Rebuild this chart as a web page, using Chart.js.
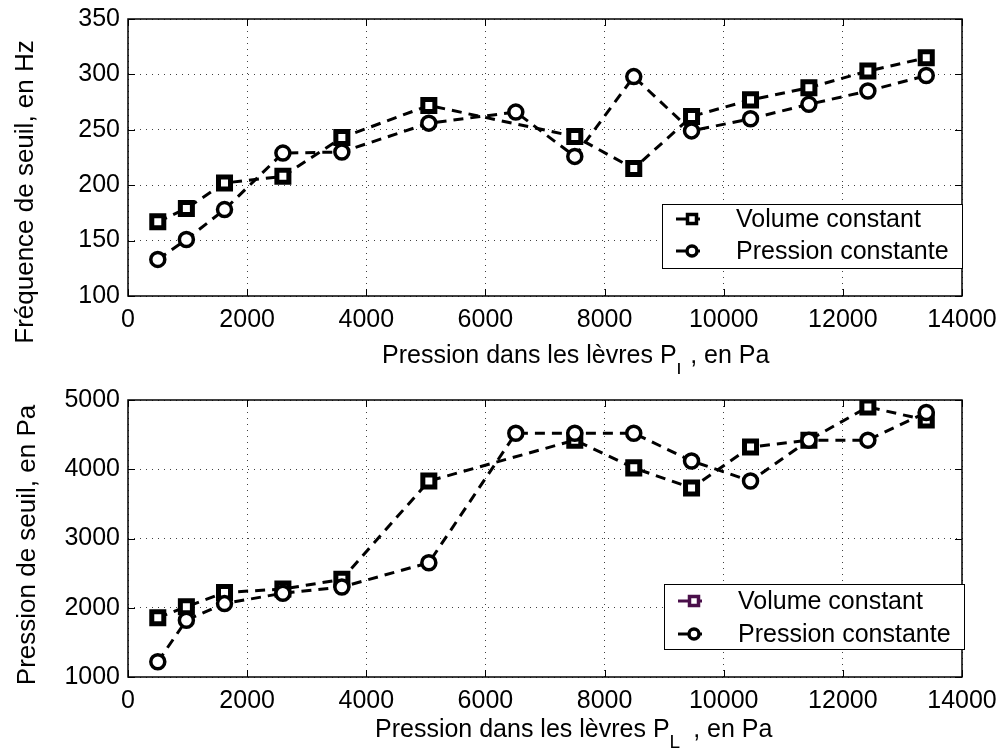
<!DOCTYPE html>
<html>
<head>
<meta charset="utf-8">
<script src="https://cdn.jsdelivr.net/npm/chart.js@4.4.0/dist/chart.umd.min.js"></script>
<style>
body { margin: 0; background: #fff; }
#wrap { position: relative; width: 999px; height: 748px; }
canvas { position: absolute; left: 0; }
</style>
</head>
<body>
<div id="wrap">
  <canvas id="freqChart" width="999" height="374" style="top:0"></canvas>
  <canvas id="pressChart" width="999" height="374" style="top:374px"></canvas>
</div>
<script>
// lip pressure (x) for every measurement, Pa
const lipPressure = [500, 980, 1620, 2600, 3590, 5050, 6510, 7500, 8490, 9460, 10450, 11430, 12420, 13400]

// top plot: threshold frequency, Hz
const freqVolume = [167, 179, 202, 208, 243, 272, null, 244, 215, 262, 277, 288, 303, 315]
const freqPressure = [133, 151, 178, 229, 230, 256, 266, 226, 298, 249, 260, 273, 285, 299]

// bottom plot: threshold pressure, Pa
const seuilVolume = [1856, 2015, 2220, 2270, 2410, 3830, null, 4420, 4020, 3730, 4320, 4420, 4900, 4710]
const seuilPressure = [1220, 1820, 2060, 2210, 2300, 2650, 4520, 4520, 4520, 4120, 3830, 4420, 4420, 4820]

const seriesNames = ['Volume constant', 'Pression constante']
const xTitle = ['Pression dans les lèvres P', 'L', ', en Pa']

const FONT = "'Liberation Sans', Arial, sans-serif"

const toPoints = (ys) => lipPressure.map((x, i) => ({ x: x, y: ys[i] }))

// draws the box frame, inward ticks, axis titles and the framed legend
const matlabLook = {
    id: 'matlabLook',
    afterDraw(chart, args, opts) {
        const c = chart.ctx
        const a = chart.chartArea
        const xs = chart.scales.x
        const ys = chart.scales.y
        c.save()
        c.strokeStyle = '#000'
        c.lineWidth = 1.5
        c.strokeRect(a.left, a.top, a.right - a.left, a.bottom - a.top)

        c.lineWidth = 1
        c.beginPath()
        xs.ticks.forEach(t => {
            const px = Math.round(xs.getPixelForValue(t.value)) + 0.5
            c.moveTo(px, a.bottom); c.lineTo(px, a.bottom - 7)
            c.moveTo(px, a.top); c.lineTo(px, a.top + 7)
        })
        ys.ticks.forEach(t => {
            const py = Math.round(ys.getPixelForValue(t.value)) + 0.5
            c.moveTo(a.left, py); c.lineTo(a.left + 7, py)
            c.moveTo(a.right, py); c.lineTo(a.right - 7, py)
        })
        c.stroke()

        // y title
        c.fillStyle = '#000'
        c.font = `26px ${FONT}`
        c.textAlign = 'center'
        c.textBaseline = 'middle'
        c.save()
        c.translate(opts.yTitleX, opts.yTitleY)
        c.rotate(-Math.PI / 2)
        c.fillText(opts.yTitle, 0, 0)
        c.restore()

        // x title with subscript L
        c.textAlign = 'left'
        c.textBaseline = 'alphabetic'
        c.font = `25px ${FONT}`
        const w1 = c.measureText(xTitle[0]).width
        c.font = `19px ${FONT}`
        const w2 = c.measureText(xTitle[1]).width + opts.subGap
        const x0 = opts.xTitleLeft
        c.font = `25px ${FONT}`
        c.fillText(xTitle[0], x0, opts.xTitleY)
        c.font = `19px ${FONT}`
        c.fillText(xTitle[1], x0 + w1, opts.xTitleY + opts.subDrop)
        c.font = `25px ${FONT}`
        c.fillText(xTitle[2], x0 + w1 + w2, opts.xTitleY)

        // legend box
        const L = opts.legend
        c.fillStyle = '#fff'
        c.fillRect(L.x, L.y, L.w, L.h)
        c.strokeStyle = '#000'
        c.lineWidth = 1
        c.strokeRect(L.x + 0.5, L.y + 0.5, L.w, L.h)
        chart.data.datasets.forEach((ds, i) => {
            const ry = L.y + L.rowY[i]
            const col = L.colors[i]
            c.strokeStyle = col
            c.lineWidth = 3
            c.beginPath()
            c.moveTo(L.x + 14, ry); c.lineTo(L.x + 38, ry)
            c.stroke()
            c.fillStyle = '#fff'
            c.lineWidth = 3.5
            c.beginPath()
            if (ds.pointStyle === 'rect') {
                c.rect(L.x + 30 - 4.5, ry - 4.5, 9, 9)
            } else {
                c.arc(L.x + 30, ry, 5, 0, Math.PI * 2)
            }
            c.fill(); c.stroke()
            c.fillStyle = '#000'
            c.font = `25px ${FONT}`
            c.textBaseline = 'middle'
            c.fillText(ds.label, L.x + 74, ry + 1)
        })
        c.restore()
    }
}

const makeChart = (id, volume, pressure, yMin, yMax, yStep, padTop, xHeight, look) => {
    const ctx = document.getElementById(id).getContext('2d')
    return new Chart(ctx, {
        type: 'line',
        data: {
            datasets: [
                {
                    label: seriesNames[0],
                    data: toPoints(volume),
                    borderColor: '#000',
                    borderWidth: 3,
                    borderDash: [10, 7],
                    pointStyle: 'rect',
                    pointRadius: 8.5,
                    pointBorderWidth: 5,
                    pointBackgroundColor: '#fff',
                    pointBorderColor: '#000',
                    spanGaps: true,
                    order: 2
                },
                {
                    label: seriesNames[1],
                    data: toPoints(pressure),
                    borderColor: '#000',
                    borderWidth: 3,
                    borderDash: [10, 7],
                    pointStyle: 'circle',
                    pointRadius: 7,
                    pointBorderWidth: 3.5,
                    pointBackgroundColor: '#fff',
                    pointBorderColor: '#000',
                    order: 1
                }
            ]
        },
        options: {
            responsive: false,
            animation: false,
            layout: { padding: { top: padTop, right: 37, left: 0, bottom: 0 } },
            plugins: {
                legend: { display: false },
                tooltip: { enabled: false },
                matlabLook: look
            },
            scales: {
                x: {
                    type: 'linear',
                    min: 0, max: 14000,
                    ticks: { stepSize: 2000, color: '#000', padding: 9, font: { family: FONT, size: 25 }, maxRotation: 0, callback: v => String(v) },
                    grid: { color: 'rgba(0,0,0,0.75)', lineWidth: 1, drawTicks: false },
                    border: { display: false, dash: [1, 5] },
                    afterFit: (s) => { s.height = xHeight; s.paddingLeft = 0; s.paddingRight = 0 }
                },
                y: {
                    min: yMin, max: yMax,
                    ticks: { stepSize: yStep, color: '#000', padding: 8, font: { family: FONT, size: 25 }, callback: v => String(v) },
                    grid: { color: 'rgba(0,0,0,0.75)', lineWidth: 1, drawTicks: false },
                    border: { display: false, dash: [1, 5] },
                    afterFit: (s) => { s.width = 128; s.paddingTop = 0; s.paddingBottom = 0 }
                }
            }
        },
        plugins: [matlabLook]
    })
}

document.addEventListener('DOMContentLoaded', () => {
    makeChart('freqChart', freqVolume, freqPressure, 100, 350, 50, 19, 78, {
        yTitle: 'Fréquence de seuil, en Hz', yTitleX: 26, yTitleY: 192,
        xTitleLeft: 382, xTitleY: 363, subGap: 3, subDrop: 13,
        legend: { x: 662, y: 204, w: 300, h: 64, rowY: [15, 47], colors: ['#000', '#000'] }
    })
    makeChart('pressChart', seuilVolume, seuilPressure, 1000, 5000, 1000, 26, 71, {
        yTitle: 'Pression de seuil, en Pa', yTitleX: 28, yTitleY: 171,
        xTitleLeft: 375, xTitleY: 363, subGap: 13, subDrop: 11,
        legend: { x: 664, y: 210, w: 300, h: 65, rowY: [17, 50], colors: ['#4a0f4a', '#000'] }
    })
})
</script>
</body>
</html>
